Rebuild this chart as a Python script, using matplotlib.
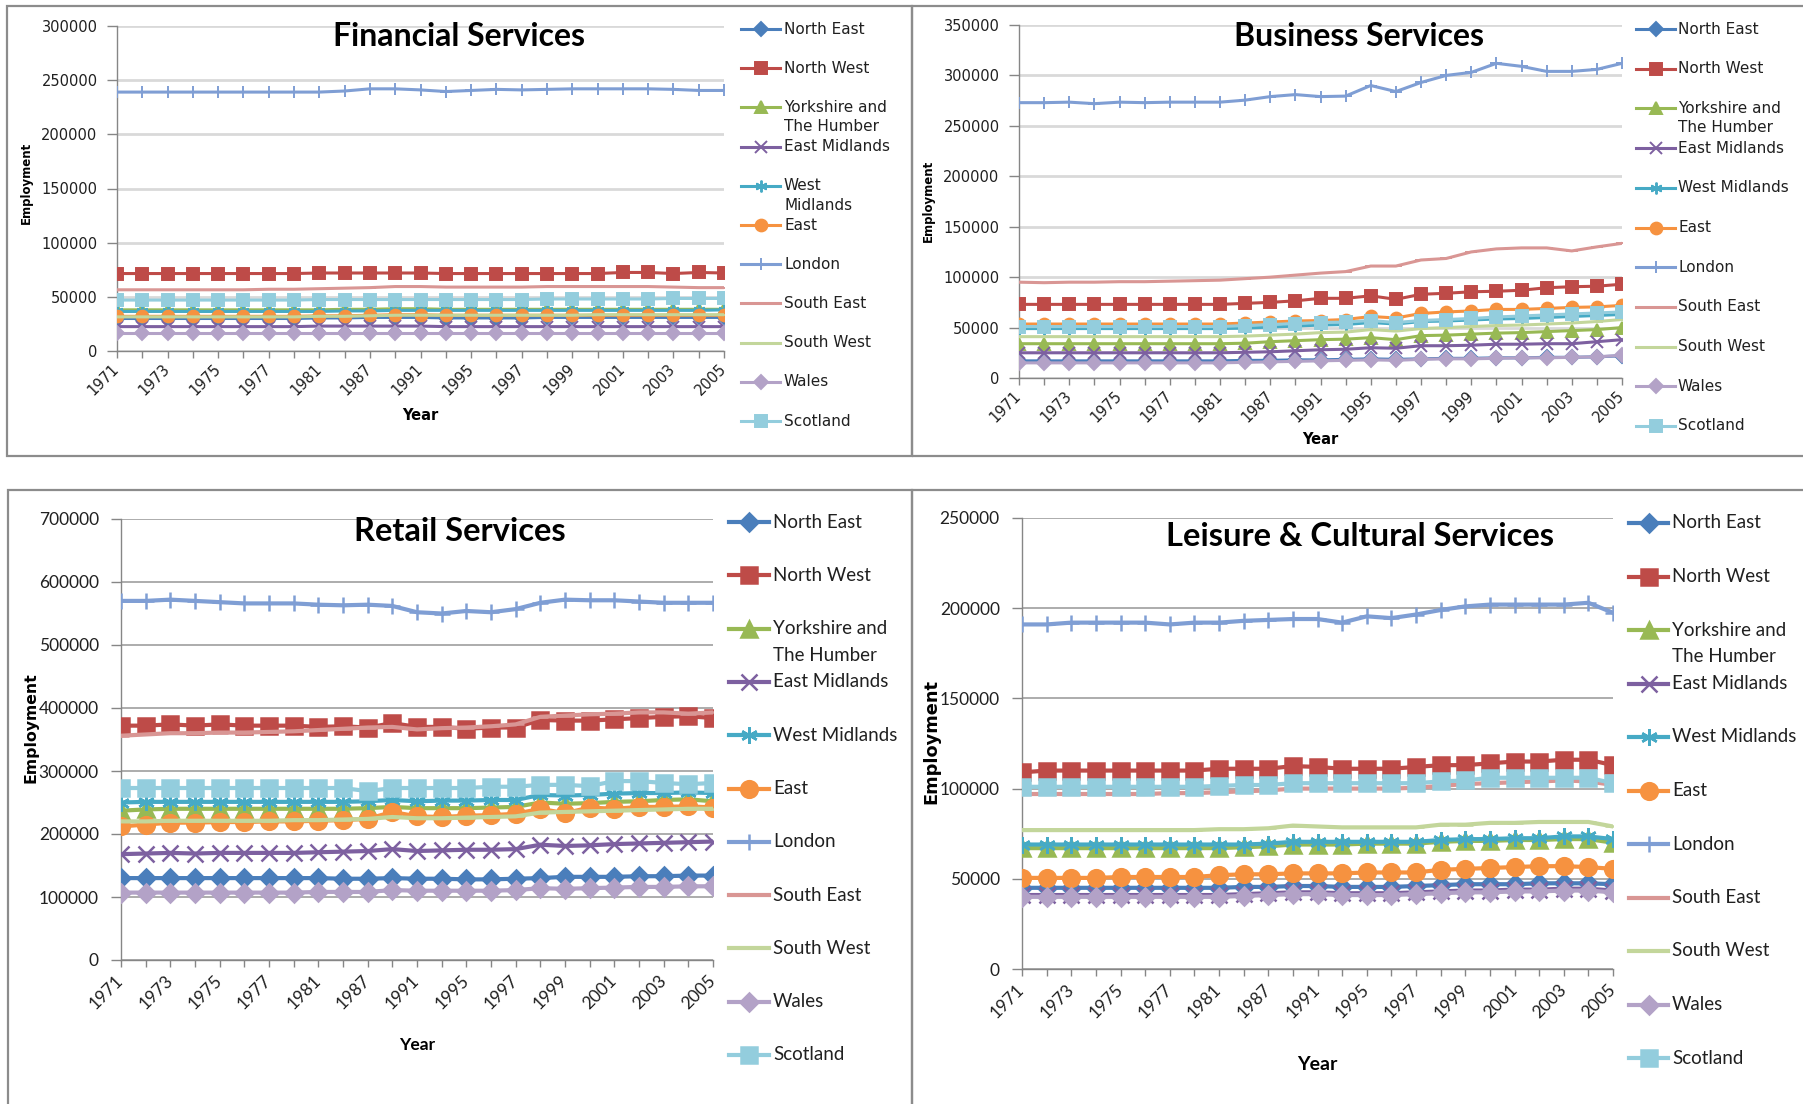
import matplotlib
matplotlib.use("Agg")
import matplotlib.pyplot as plt
from matplotlib.lines import Line2D
from matplotlib.patches import Rectangle

# Kategorien (nur jede zweite wird beschriftet)
years = [1971, 1972, 1973, 1974, 1975, 1976, 1977, 1978, 1981, 1984, 1987, 1989, 1991,
         1993, 1995, 1996, 1997, 1998, 1999, 2000, 2001, 2002, 2003, 2004, 2005]

regions = ['North East', 'North West', 'Yorkshire and\nThe Humber', 'East Midlands',
           'West Midlands', 'East', 'London', 'South East', 'South West', 'Wales', 'Scotland']

# Financial Services
fin_ne = [30000, 30000, 30000, 30000, 30000, 30000, 30000, 30000, 30500, 30500, 31000, 31000, 31000,
          30500, 30500, 30500, 30500, 31000, 31000, 31000, 31000, 31000, 31000, 31000, 31000]
fin_nw = [71500, 71500, 71500, 71500, 71500, 71500, 71500, 71500, 72000, 72000, 72000, 72000, 72000,
          71500, 71500, 71500, 71500, 71500, 71500, 71500, 72500, 72500, 71500, 72500, 72000]
fin_yh = [38000, 38000, 38000, 38000, 38000, 38000, 38000, 38000, 38000, 38500, 38500, 39000, 39000,
          38500, 38500, 38500, 38500, 38500, 38500, 38500, 38500, 38500, 38500, 38500, 38500]
fin_em = [22500, 22500, 22500, 22500, 22500, 22500, 22500, 22500, 23000, 23000, 23000, 23000, 23000,
          22500, 22500, 22500, 22500, 22500, 22500, 22500, 22500, 22500, 22500, 22500, 22500]
fin_wm = [36500, 36500, 36500, 36500, 36500, 36500, 36500, 36500, 36500, 37000, 37000, 37500, 37500,
          37500, 37500, 37500, 37500, 37500, 37500, 37500, 37500, 37500, 37500, 37500, 38000]
fin_east = [32000, 32000, 32000, 32000, 32000, 32000, 32000, 32000, 32500, 32500, 33000, 33500, 33500,
            33000, 33000, 33000, 33000, 33000, 33000, 33000, 33000, 33000, 33000, 33000, 33000]
fin_london = [239000, 239000, 239000, 239000, 239000, 239000, 239000, 239000, 239000, 240000, 242000,
              242000, 241000, 239500, 240500, 241500, 241000, 241500, 242000, 242000, 242000, 242000,
              241500, 240500, 240500]
fin_se = [56500, 56500, 56500, 56500, 56500, 56500, 57000, 57000, 57500, 58000, 58500, 59500, 59500,
          59000, 59000, 59000, 59000, 59500, 59500, 59500, 59500, 59500, 59000, 58500, 58500]
fin_sw = [31500, 31500, 31500, 31500, 31500, 31500, 31500, 31500, 32000, 32000, 32500, 33000, 33000,
          33000, 33000, 33000, 33000, 33000, 33000, 33500, 33500, 33500, 33500, 33500, 33500]
fin_wales = [17000, 17000, 17000, 17000, 17000, 17000, 17000, 17000, 17000, 17000, 17000, 17000, 17000,
             17000, 17000, 17000, 17000, 17000, 17000, 17000, 17000, 17000, 17000, 17000, 17000]
fin_scot = [47000, 47000, 47000, 47000, 47000, 47000, 47000, 47000, 47500, 47500, 47500, 47500, 47500,
            47500, 47500, 47500, 47500, 48000, 48000, 48000, 48000, 48000, 48500, 48500, 48500]

# Business Services
bus_ne = [17000, 17000, 17000, 17000, 17000, 17000, 17000, 17000, 17000, 17500, 17500, 18000, 18000,
          18500, 19000, 18500, 19000, 19500, 19500, 20000, 20000, 20500, 20500, 21000, 22000]
bus_nw = [73000, 73000, 73000, 73000, 73000, 73000, 73000, 73000, 73000, 74000, 75000, 76500, 79000,
          79000, 81500, 78000, 83000, 84000, 85500, 86000, 87000, 89500, 90500, 91000, 93000]
bus_yh = [34000, 34000, 34000, 34000, 34000, 34000, 34000, 34000, 34000, 34500, 36000, 37000, 38000,
          38500, 40000, 38000, 42000, 42500, 43500, 44500, 45000, 46000, 47000, 48000, 50000]
bus_em = [25000, 25000, 25000, 25000, 25000, 25000, 25000, 25000, 25000, 25500, 26000, 27000, 28000,
          28500, 30000, 29500, 32000, 32000, 32500, 33500, 33500, 34000, 34000, 36000, 38000]
bus_wm = [49000, 49000, 49000, 49000, 49000, 49000, 49000, 49000, 49000, 49500, 50500, 51500, 52500,
          53000, 55000, 53500, 56000, 56500, 57500, 58500, 59000, 60000, 61000, 62000, 63000]
bus_east = [53500, 53500, 53500, 53500, 53500, 53500, 53500, 53500, 53500, 54500, 55500, 56500, 57000,
            58000, 61000, 59500, 64000, 65500, 66500, 68000, 68000, 69000, 70000, 70500, 72000]
bus_london = [273000, 273000, 273500, 272000, 273500, 273000, 273500, 273500, 273500, 275500, 279000,
              281000, 279000, 279500, 290000, 284000, 293000, 300000, 303000, 312000, 309000, 304000,
              304000, 306000, 312000]
bus_se = [95000, 94500, 95000, 95000, 95500, 95500, 96000, 96500, 97000, 98500, 100000, 102000, 104000,
          105500, 111000, 111000, 117000, 118500, 125000, 128000, 129000, 129000, 126000, 130000, 133500]
bus_sw = [41000, 41000, 41000, 41000, 41000, 41000, 41000, 41000, 41000, 41500, 42500, 43500, 45000,
          45500, 48000, 46500, 49000, 50000, 51000, 52000, 52500, 53500, 54500, 56000, 58000]
bus_wales = [15000, 15000, 15000, 15000, 15000, 15000, 15000, 15000, 15000, 15500, 16000, 16500, 17000,
             17500, 18000, 17500, 18500, 19000, 19000, 19500, 20000, 20000, 20500, 21000, 22500]
bus_scot = [51000, 51000, 51000, 51000, 51000, 51000, 51000, 51000, 51000, 52000, 53000, 54000, 55000,
            55500, 57000, 55000, 57000, 58000, 59000, 60500, 61500, 62500, 63500, 64500, 65500]

# Retail Services
ret_ne = [130000, 130000, 130000, 130000, 130000, 130000, 130000, 130000, 130000, 129000, 129000, 130000,
          129000, 129000, 128000, 128000, 129000, 130000, 132000, 132000, 132000, 133000, 133000, 134000,
          134000]
ret_nw = [372000, 372000, 374000, 372000, 374000, 372000, 372000, 372000, 370000, 371000, 369000, 376000,
          370000, 370000, 367000, 369000, 369000, 381000, 380000, 380000, 382000, 384000, 386000, 387000,
          384000]
ret_yh = [237000, 239000, 240000, 240000, 240000, 240000, 240000, 240000, 240000, 240000, 241000, 243000,
          241000, 241000, 241000, 242000, 243000, 250000, 248000, 249000, 251000, 252000, 254000, 255000,
          252000]
ret_em = [168000, 169000, 170000, 169000, 170000, 170000, 170000, 170000, 171000, 172000, 173000, 176000,
          173000, 174000, 175000, 175000, 176000, 183000, 181000, 182000, 184000, 185000, 186000, 187000,
          188000]
ret_wm = [250000, 251000, 251000, 251000, 251000, 251000, 251000, 251000, 251000, 251000, 252000, 254000,
          252000, 253000, 253000, 254000, 254000, 262000, 261000, 262000, 264000, 265000, 265000, 266000,
          265000]
ret_east = [212000, 215000, 218000, 218000, 219000, 219000, 220000, 220000, 221000, 222000, 224000,
            235000, 228000, 227000, 229000, 230000, 232000, 240000, 233000, 242000, 240000, 243000,
            243000, 244000, 242000]
ret_london = [570000, 570000, 572000, 570000, 568000, 566000, 566000, 566000, 564000, 563000, 564000,
              562000, 552000, 550000, 554000, 552000, 557000, 567000, 572000, 571000, 571000, 569000,
              567000, 567000, 567000]
ret_se = [356000, 358000, 360000, 360000, 361000, 361000, 362000, 363000, 365000, 367000, 369000, 370000,
          366000, 368000, 369000, 371000, 374000, 386000, 388000, 390000, 391000, 393000, 393000, 391000,
          393000]
ret_sw = [220000, 220000, 221000, 221000, 221000, 221000, 221000, 222000, 222000, 223000, 224000, 227000,
          225000, 225000, 226000, 227000, 228000, 234000, 235000, 236000, 237000, 238000, 239000, 240000,
          240000]
ret_wales = [107000, 107000, 107000, 107000, 107000, 107000, 107000, 107000, 108000, 108000, 108000,
             111000, 110000, 110000, 110000, 110000, 111000, 114000, 113000, 114000, 115000, 116000,
             116000, 117000, 117000]
ret_scot = [273000, 273000, 273000, 273000, 273000, 273000, 273000, 273000, 273000, 273000, 268000,
            273000, 273000, 273000, 273000, 275000, 275000, 278000, 278000, 276000, 284000, 284000,
            281000, 279000, 281000]

# Leisure & Cultural Services
lei_ne = [45000, 45000, 45000, 45000, 45000, 45000, 45000, 45000, 45000, 45500, 45500, 46000, 46000,
          45500, 45500, 45500, 46000, 46500, 47000, 47000, 47000, 47500, 47500, 47500, 47000]
lei_nw = [109000, 110000, 110000, 110000, 110000, 110000, 110000, 110000, 111000, 111000, 111000, 112500,
          112000, 111000, 111000, 111000, 112000, 113000, 113000, 114000, 115000, 115000, 116000, 116000,
          113000]
lei_yh = [67000, 67000, 67000, 67000, 67000, 67000, 67000, 67000, 67000, 67500, 68000, 69000, 69000,
          69000, 69500, 69500, 69500, 70500, 71000, 71000, 71500, 71500, 72000, 72000, 70000]
lei_em = [41000, 41000, 41000, 41000, 41000, 41000, 41000, 41000, 41000, 41500, 42000, 42500, 42500,
          42000, 42000, 42000, 42500, 43000, 43500, 43500, 44000, 44000, 44500, 44500, 43500]
lei_wm = [69000, 69000, 69000, 69000, 69000, 69000, 69000, 69000, 69000, 69000, 69500, 70500, 70500,
          70500, 70500, 70500, 70500, 71500, 72000, 72000, 72500, 72500, 73500, 73500, 72000]
lei_east = [50500, 50500, 50500, 50500, 51000, 51000, 51000, 51000, 52000, 52500, 52500, 53000, 53000,
            53000, 53500, 53500, 53500, 55000, 55500, 56000, 56500, 57000, 57000, 56500, 55500]
lei_london = [191000, 191000, 192000, 192000, 192000, 192000, 191000, 192000, 192000, 193000, 193500,
              194000, 194000, 192000, 195500, 194500, 196500, 199000, 201000, 202000, 202000, 202000,
              202000, 203000, 197500]
lei_se = [97000, 97000, 97000, 97000, 97000, 97000, 97500, 97500, 98000, 98500, 99000, 100000, 100000,
          100000, 100000, 100000, 100500, 101500, 102500, 103000, 103500, 104000, 104500, 104000, 102000]
lei_sw = [77000, 77000, 77000, 77000, 77000, 77000, 77000, 77000, 77500, 77500, 78000, 79500, 79000,
          78500, 78500, 78500, 78500, 80000, 80000, 81000, 81000, 81500, 81500, 81500, 79000]
lei_wales = [40000, 40000, 40000, 40000, 40000, 40000, 40000, 40000, 40000, 40500, 41000, 41500, 41500,
             41000, 41000, 41000, 41500, 42000, 42500, 42500, 43000, 43000, 43500, 43500, 42500]
lei_scot = [101000, 101000, 101000, 101000, 101000, 101000, 101000, 101000, 101500, 102000, 102000,
            103000, 103000, 103000, 103000, 103000, 103000, 104000, 104500, 106000, 106000, 106000,
            106000, 106000, 103000]

colors = ['#4a7ebb', '#be4b48', '#98b954', '#7d60a0', '#46aac5', '#f69240',
          '#7f9ed4', '#d99694', '#c3d69b', '#b3a2c7', '#93cddd']
markers = ['D', 's', '^', 'x', (6, 2, 0), 'o', '+', '_', '_', 'D', 's']

W, H = 1803, 1104
fig = plt.figure(figsize=(W / 100, H / 100), dpi=100)


def fx(px):
    return px / W


def fy(py):
    return 1 - py / H


# Rahmen der vier Diagramme
for (x0, y0, x1, y1) in [(7, 6, 912, 456), (912, 6, 1812, 456), (8, 490, 912, 1112), (912, 490, 1812, 1112)]:
    fig.add_artist(Rectangle((fx(x0), fy(y1)), (x1 - x0) / W, (y1 - y0) / H, transform=fig.transFigure,
                             fill=False, edgecolor='#8c8c8c', linewidth=1.6))


def panel(box, series, title, ymax, ystep, style):
    l, t, r, b = box
    ax = fig.add_axes([fx(l), fy(b), (r - l) / W, (b - t) / H])
    x = list(range(len(years)))
    for i, vals in enumerate(series):
        mk = markers[i]
        ms = style['ms'] * (0.78 if mk == 'D' else 1.0)
        ax.plot(x, vals, color=colors[i], lw=style['lw'], marker=mk, ms=ms,
                mec=colors[i], mew=style['mew'], zorder=3 + i * 0.01)
    ax.set_xlim(0, len(years) - 1)
    ax.set_ylim(0, ymax)
    ax.set_yticks(range(0, ymax + 1, ystep))
    ax.set_yticklabels([str(v) for v in range(0, ymax + 1, ystep)],
                       fontsize=style['tfs'], family=style['tfont'], color='#202020')
    ax.set_xticks(x)
    ax.set_xticklabels([str(y) if i % 2 == 0 else '' for i, y in enumerate(years)],
                       rotation=45, ha='right', va='center', rotation_mode='anchor',
                       fontsize=style['tfs'], family=style['tfont'], color='#202020')
    ax.tick_params(axis='x', length=5, width=1, color='#868686', pad=style['xpad'])
    ax.tick_params(axis='y', length=7, width=1, color='#868686', pad=style['ypad'])
    ax.grid(axis='y', color=style['gc'], lw=style['glw'])
    ax.set_axisbelow(True)
    for s in ['top', 'right']:
        ax.spines[s].set_visible(False)
    for s in ['left', 'bottom']:
        ax.spines[s].set_color('#868686')
        ax.spines[s].set_linewidth(1)
    # Achsentitel
    fig.text(fx((l + r) / 2), fy(style['xly']), 'Year', ha='center', va='center',
             fontsize=style['xlfs'], family=style['xlfont'], fontweight='bold')
    fig.text(fx(style['ylx']), fy(style['yly']), 'Employment', ha='center', va='center',
             rotation=90, fontsize=style['ylfs'], family='DejaVu Sans', fontweight='bold')
    # Titel
    fig.text(fx(style['tx']), fy(style['ty']), title, ha='center', va='center',
             fontsize=style['titfs'], family='Lato', fontweight='bold')
    # Legende (gleichmaessiger Abstand wie in Excel)
    lx0, lx1, tx0 = style['leg_x']
    for i, name in enumerate(regions):
        yy = style['leg_y0'] + i * style['leg_step']
        mk = markers[i]
        ms = style['ms'] * (0.78 if mk == 'D' else 1.0)
        fig.add_artist(Line2D([fx(lx0), fx((lx0 + lx1) / 2), fx(lx1)], [fy(yy)] * 3,
                              transform=fig.transFigure, color=colors[i], lw=style['lw'],
                              marker=mk, ms=ms, mec=colors[i], mew=style['mew'], markevery=[1]))
        lines = name.split('\n')
        if name.startswith('West') and style.get('wrap_wm'):
            lines = ['West', 'Midlands']
        for k, ln in enumerate(lines):
            fig.text(fx(tx0), fy(yy + k * style['line_gap']), ln, ha='left', va='center',
                     fontsize=style['lfs'], family=style['lfont'], color='#202020')
    return ax


top = dict(ms=8.5, mew=1.4, lw=2.2, tfs=10.5, tfont='DejaVu Sans', xpad=6, ypad=7,
           gc='#d9d9d9', glw=2.0, xlfs=10.5, xlfont='DejaVu Sans', ylfs=8.5, titfs=23,
           lfs=11, lfont='DejaVu Sans', line_gap=19.5)
bot = dict(ms=12, mew=1.8, lw=3.0, tfs=12.5, tfont='Lato', xpad=8, ypad=9,
           gc='#a6a6a6', glw=1.3, xlfs=13, xlfont='Lato', ylfs=11.5, titfs=23.5,
           lfs=13.5, lfont='Lato', line_gap=27)

s = dict(top, xly=415, ylx=26, yly=183, tx=459, ty=36, leg_x=(741, 780, 784), leg_y0=29,
         leg_step=39.2, wrap_wm=True)
panel((117, 26, 724, 351),
      [fin_ne, fin_nw, fin_yh, fin_em, fin_wm, fin_east, fin_london, fin_se, fin_sw, fin_wales, fin_scot],
      'Financial Services', 300000, 50000, s)

s = dict(top, xly=439, ylx=928, yly=201, tx=1359, ty=37, leg_x=(1636, 1675, 1678), leg_y0=29,
         leg_step=39.7)
panel((1019, 25, 1622, 378),
      [bus_ne, bus_nw, bus_yh, bus_em, bus_wm, bus_east, bus_london, bus_se, bus_sw, bus_wales, bus_scot],
      'Business Services', 350000, 50000, s)

s = dict(bot, ylfs=11.3, xlfs=12.5, xly=1045, ylx=31, yly=728, tx=460, ty=532, leg_x=(729, 769, 773),
         leg_y0=522, leg_step=53.3)
panel((121, 519, 713, 960),
      [ret_ne, ret_nw, ret_yh, ret_em, ret_wm, ret_east, ret_london, ret_se, ret_sw, ret_wales, ret_scot],
      'Retail Services', 700000, 100000, s)

s = dict(bot, ylfs=12.8, xlfs=14, xly=1065, ylx=931, yly=742, tx=1360, ty=537, leg_x=(1629, 1668, 1672),
         leg_y0=523, leg_step=53.5)
panel((1022, 518, 1613, 969),
      [lei_ne, lei_nw, lei_yh, lei_em, lei_wm, lei_east, lei_london, lei_se, lei_sw, lei_wales, lei_scot],
      'Leisure & Cultural Services', 250000, 50000, s)

fig.savefig('out.png', dpi=100)
